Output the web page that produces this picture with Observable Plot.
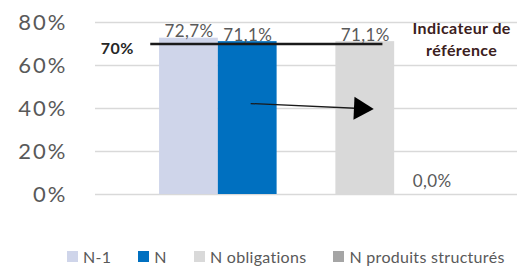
<!DOCTYPE html>
<html><head><meta charset="utf-8">
<script src="https://cdn.jsdelivr.net/npm/d3@7"></script>
<script src="https://cdn.jsdelivr.net/npm/@observablehq/plot@0.6"></script>
<style>
body{margin:0;background:#fff;font-family:Lato,sans-serif;}
#legend{display:flex;align-items:center;height:20px;margin-top:14px;padding-left:67px;font-size:16px;letter-spacing:0.3px;color:#595959;}
.item{display:flex;align-items:center;margin-right:27px;white-space:nowrap}
.sw{width:11px;height:11px;margin-right:5px}
g[aria-label="y-axis tick label"] text{letter-spacing:2px}
g[aria-label="text"] text{letter-spacing:0.4px}
</style></head><body><div id="chart"></div><div id="legend"></div>
<script>
const series = ["N-1", "N", "N obligations", "N produits structurés"];
const slots = [0, 1, 3, 4];
const values = [0.727, 0.711, 0.711, 0.0];
const labels = ["72,7%", "71,1%", "71,1%", "0,0%"];
const yTicks = [0, 0.2, 0.4, 0.6, 0.8];
const refValue = 0.7;
const refLabel = "70%";
const refSpan = [-0.15, 3.8];
const refNote = "Indicateur de\nréférence";
const refNoteAt = [5.14, 0.73];
const arrowFrom = [1.55, 0.423];
const arrowTo = [3.42, 0.40];

const palette = ["#cfd5ea", "#0070c0", "#d9d9d9", "#a5a5a5"];
const data = series.map((s, i) => ({series: s, slot: slots[i], value: values[i], label: labels[i]}));
const nonZero = data.filter(d => d.value > 0);
const zero = data.filter(d => d.value === 0);

const chart = Plot.plot({
  width: 523, height: 232,
  marginLeft: 95, marginRight: 6, marginTop: 22, marginBottom: 38,
  x: {type: "linear", domain: [-1.09, 6.09], axis: null},
  y: {domain: [0, 0.8], axis: null},
  color: {domain: series, range: palette},
  style: {fontFamily: "Lato, sans-serif", background: "white"},
  marks: [
    Plot.ruleY(yTicks, {stroke: "#d9d9d9", strokeWidth: 1.5}),
    Plot.axisY(yTicks, {tickFormat: d3.format(".0%"), tickSize: 0, tickPadding: 28, fontSize: 22, fill: "#595959", label: null}),
    Plot.rectY(data, {x1: "slot", x2: d => d.slot + 1, y: "value", fill: "series"}),
    Plot.text(nonZero, {x: d => d.slot + 0.5, y: "value", text: "label", lineAnchor: "bottom", dy: -1, fontSize: 17, fill: "#595959"}),
    Plot.text(zero, {x: d => d.slot + 0.5, y: "value", text: "label", lineAnchor: "bottom", dx: 8, dy: -8, fontSize: 17, fill: "#595959"}),
    Plot.ruleY([refValue], {x1: refSpan[0], x2: refSpan[1], stroke: "#1a1a1a", strokeWidth: 2.5}),
    Plot.text([refLabel], {x: -1.0, y: refValue, text: d => d, textAnchor: "start", dy: 5, fontSize: 16, fontWeight: "bold", fill: "#262626"}),
    Plot.text([refNote], {x: refNoteAt[0], y: refNoteAt[1], text: d => d, fontSize: 16, fontWeight: "bold", fill: "#3b2020", lineHeight: 1.4}),
    Plot.link([0], {x1: arrowFrom[0], y1: arrowFrom[1], x2: arrowTo[0], y2: arrowTo[1], stroke: "#1a1a1a", strokeWidth: 1.3}),
    Plot.dot([0], {x: arrowTo[0], y: arrowTo[1], symbol: "triangle", r: 8.5, fill: "black", stroke: "none", rotate: 92.6})
  ]
});
document.getElementById("chart").appendChild(chart);

const legend = document.getElementById("legend");
series.forEach((s, i) => {
  const item = document.createElement("div");
  item.className = "item";
  const sw = document.createElement("span");
  sw.className = "sw";
  sw.style.background = palette[i];
  const t = document.createElement("span");
  t.textContent = s;
  item.appendChild(sw); item.appendChild(t);
  legend.appendChild(item);
});
</script></body></html>
